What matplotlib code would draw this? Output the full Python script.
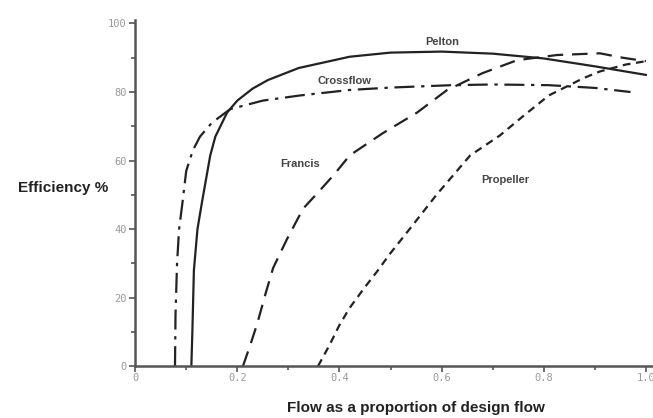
import matplotlib
matplotlib.use("Agg")
import matplotlib.pyplot as plt
from matplotlib.ticker import MultipleLocator

# curves (flow fraction, efficiency %)
pelton_x = [0.11, 0.112, 0.115, 0.122, 0.131, 0.147, 0.157, 0.18, 0.2, 0.23, 0.26, 0.32, 0.42, 0.5, 0.6, 0.7, 0.8, 0.9, 1.0]
pelton_y = [0, 10, 28, 40, 48, 61.5, 67, 74, 77.5, 81, 83.5, 87, 90.3, 91.5, 91.8, 91.2, 89.8, 87.5, 85]

cross_x = [0.078, 0.079, 0.082, 0.086, 0.092, 0.1, 0.113, 0.127, 0.15, 0.186, 0.25, 0.323, 0.42, 0.5, 0.62, 0.7, 0.81, 0.9, 0.97]
cross_y = [0, 15, 30, 40, 47, 57, 63, 67, 71, 75, 77.5, 79, 80.6, 81.3, 82, 82.2, 82, 81.2, 80]

francis_x = [0.211, 0.225, 0.239, 0.255, 0.27, 0.297, 0.329, 0.36, 0.39, 0.42, 0.485, 0.552, 0.61, 0.68, 0.748, 0.826, 0.91, 0.955, 1.0]
francis_y = [0, 6, 12.4, 21, 28.6, 37, 46, 51, 56, 61.5, 68, 74, 80.5, 85.5, 89.3, 90.8, 91.3, 90, 89]

prop_x = [0.358, 0.38, 0.4, 0.42, 0.447, 0.474, 0.5, 0.54, 0.59, 0.656, 0.714, 0.76, 0.81, 0.877, 0.91, 0.96, 1.0]
prop_y = [0, 6, 12, 17, 22.5, 27.7, 33, 40.5, 50, 61.5, 67.3, 73, 79, 84, 86, 88, 89]

labels = ["Pelton", "Crossflow", "Francis", "Propeller"]
label_pos = [(0.602, 94.5), (0.409, 83.2), (0.323, 59), (0.724, 54.3)]

fig = plt.figure(figsize=(6.53, 4.18), dpi=100)
ax = fig.add_axes([0.207, 0.124, 0.793, 0.828])

ax.plot(pelton_x, pelton_y, color="#222222", lw=1.6, ls="-")
ax.plot(cross_x, cross_y, color="#222222", lw=1.6, ls=(0, (9, 3, 1.5, 3)))
ax.plot(francis_x, francis_y, color="#222222", lw=1.6, ls=(0, (7, 4)))
ax.plot(prop_x, prop_y, color="#222222", lw=1.6, ls=(0, (3.5, 2.5)))

for name, (tx, ty) in zip(labels, label_pos):
    ax.text(tx, ty, name, fontsize=8, fontweight="bold", color="#444444",
            ha="center", va="center", family="Liberation Sans")

ax.set_xlim(0, 1.014)
ax.set_ylim(0, 101)
ax.spines["top"].set_visible(False)
ax.spines["right"].set_visible(False)
for s in ["left", "bottom"]:
    ax.spines[s].set_linewidth(1.8)
    ax.spines[s].set_color("#555555")

ax.xaxis.set_major_locator(MultipleLocator(0.2))
ax.xaxis.set_minor_locator(MultipleLocator(0.1))
ax.yaxis.set_major_locator(MultipleLocator(20))
ax.yaxis.set_minor_locator(MultipleLocator(10))
ax.set_xticks([0, 0.2, 0.4, 0.6, 0.8, 1.0])
ax.set_xticklabels(["0", "0.2", "0.4", "0.6", "0.8", "1.0"])
ax.tick_params(which="both", color="#555555", width=1.2, labelsize=7.5,
               labelcolor="#999999", labelfontfamily="DejaVu Sans Mono")
ax.tick_params(axis="x", which="major", length=4, pad=1)
ax.tick_params(axis="y", which="major", length=4, pad=2)
ax.tick_params(which="minor", length=3)

fig.text(0.0965, 0.55, "Efficiency %", fontsize=11, fontweight="bold",
         color="#222222", ha="center", va="center", family="Liberation Sans")
fig.text(0.637, 0.024, "Flow as a proportion of design flow", fontsize=11,
         fontweight="bold", color="#222222", ha="center", va="center",
         family="Liberation Sans")

fig.savefig("out.png", dpi=100)
